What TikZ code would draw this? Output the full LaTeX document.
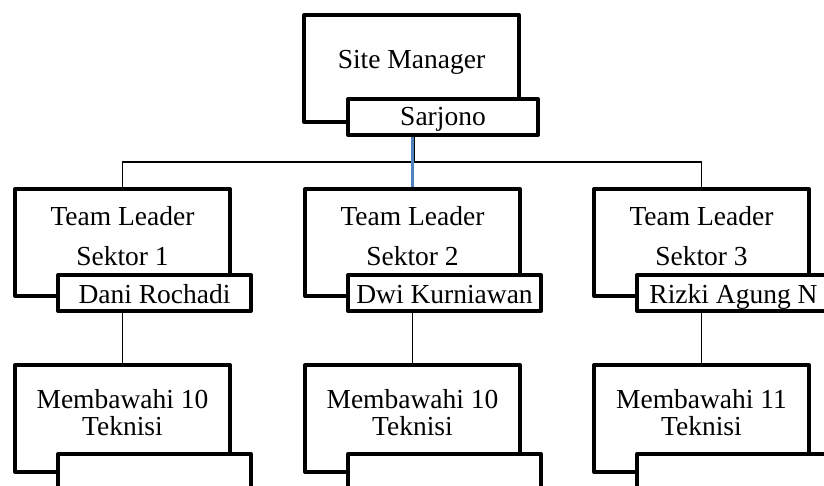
\documentclass[tikz,border=0pt]{standalone}
\usepackage{fontspec}
\setmainfont{Liberation Serif}
\usetikzlibrary{calc}

\tikzset{
  unitbox/.style={draw, line width=4pt, line join=round, fill=white, inner sep=0pt,
    outer sep=2pt, minimum width=215pt, minimum height=107pt, anchor=north west},
  namebox/.style={draw, line width=4pt, line join=round, fill=white, inner sep=0pt,
    outer sep=2pt, minimum width=193pt, minimum height=36pt, anchor=north west},
  lbl/.style={anchor=base, inner sep=0pt, font=\fontsize{27.5}{33}\selectfont},
  thinline/.style={line width=1.2pt},
  blueline/.style={line width=3pt, draw={rgb,255:red,79;green,129;blue,189}}
}

\begin{document}
\begin{tikzpicture}[x=1pt, y=-1pt]
  \clip (0,0) rectangle (824,485);
  % site manager
  \node[unitbox] (sm) at (302,13) {};
  \node[namebox, minimum width=190pt] (smn) at (346,97) {};
  \node[lbl] (smt) at (411.5,68) {Site Manager};
  \node[lbl] (smnt) at (443,125) {Sarjono};
  % team leaders
  \node[unitbox] (tl1) at (13,187) {};
  \node[unitbox] (tl2) at (303,187) {};
  \node[unitbox] (tl3) at (592,187) {};
  \node[namebox] (tl1n) at (56,273) {};
  \node[namebox] (tl2n) at (346,273) {};
  \node[namebox] (tl3n) at (635,273) {};
  \node[lbl] (tl1a) at (122.5,225) {Team Leader};
  \node[lbl] (tl1b) at (122.5,265) {Sektor 1};
  \node[lbl] (tl2a) at (412.5,225) {Team Leader};
  \node[lbl] (tl2b) at (412.5,265) {Sektor 2};
  \node[lbl] (tl3a) at (701.5,225) {Team Leader};
  \node[lbl] (tl3b) at (701.5,265) {Sektor 3};
  \node[lbl] (tl1nt) at (154.5,303) {Dani Rochadi};
  \node[lbl] (tl2nt) at (444.5,303) {Dwi Kurniawan};
  \node[lbl] (tl3nt) at (733.5,303) {Rizki Agung N};
  % teknisi
  \node[unitbox] (mb1) at (13,363) {};
  \node[unitbox] (mb2) at (303,363) {};
  \node[unitbox] (mb3) at (592,363) {};
  \node[namebox] (mb1n) at (56,452) {};
  \node[namebox] (mb2n) at (346,452) {};
  \node[namebox] (mb3n) at (635,452) {};
  \node[lbl] (mb1a) at (122.5,408) {Membawahi 10};
  \node[lbl] (mb1b) at (122.5,435) {Teknisi};
  \node[lbl] (mb2a) at (412.5,408) {Membawahi 10};
  \node[lbl] (mb2b) at (412.5,435) {Teknisi};
  \node[lbl] (mb3a) at (701.5,408) {Membawahi 11};
  \node[lbl] (mb3b) at (701.5,435) {Teknisi};
  % connectors
  \coordinate (bus) at (412.5,162);
  \draw[thinline] (tl1.north) |- (bus) -| (tl3.north);
  \draw[thinline] ([xshift=1.5pt]tl2.north |- smn.south) -- ([xshift=1.5pt]bus);
  \draw[blueline] (tl2.north |- smn.south) -- (tl2.north);
  \draw[thinline] (tl1n.south -| tl1.south) -- (mb1.north);
  \draw[thinline] (tl2n.south -| tl2.south) -- (mb2.north);
  \draw[thinline] (tl3n.south -| tl3.south) -- (mb3.north);
\end{tikzpicture}
\end{document}
